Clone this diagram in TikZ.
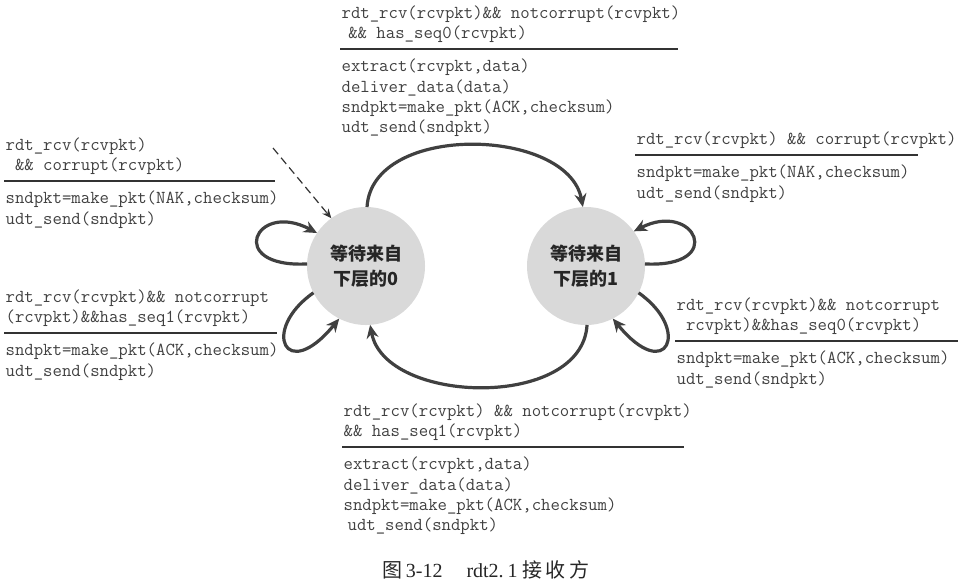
\documentclass[tikz,border=0pt]{standalone}
\usepackage{fontspec}
\setmainfont{Liberation Serif}
\newfontfamily\cjk{Noto Sans CJK SC}
\usetikzlibrary{arrows.meta}
\tikzset{
  state/.style={circle,fill=gray!30,minimum size=88.5pt,inner sep=0pt,outer sep=0pt,align=center,
    font=\cjk\bfseries\fontsize{13.5}{18.75}\selectfont,text=black!85},
  guard/.style={anchor=south west,align=left,inner xsep=1pt,inner ysep=4.5pt,
    font=\ttfamily\fontsize{13.7}{15.5}\selectfont,text=black!75},
  action/.style={anchor=north west,align=left,inner xsep=1pt,inner ysep=7.5pt,
    font=\ttfamily\fontsize{13.7}{15.2}\selectfont,text=black!75},
  trans/.style={->,line width=2.4pt,draw=black!75},
  rulel/.style={line width=0.8pt,draw=black!80}
}
\begin{document}
\begin{tikzpicture}[x=0.75pt,y=-0.75pt,>={Stealth[length=10pt,width=9pt]}]
  \useasboundingbox (0,0) rectangle (969,587);
  \node[state] (s0) at (366,266) {等待来自\\下层的0};
  \node[state] (s1) at (586,266) {等待来自\\下层的1};
  \coordinate (init) at (273,148);

  \node[guard] (gT) at (340,49) {rdt\_rcv(rcvpkt)\&\& notcorrupt(rcvpkt)\\\hspace{5pt}\&\& has\_seq0(rcvpkt)};
  \node[action] (aT) at (340,49) {extract(rcvpkt,data)\\deliver\_data(data)\\sndpkt=make\_pkt(ACK,checksum)\\udt\_send(sndpkt)};
  \draw[rulel] (gT.south west) -- ++(338,0);

  \node[guard] (gL0) at (4,181) {rdt\_rcv(rcvpkt)\\\ \&\& corrupt(rcvpkt)};
  \node[action] (aL0) at (4,181) {sndpkt=make\_pkt(NAK,checksum)\\udt\_send(sndpkt)};
  \draw[rulel] (gL0.south west) -- ++(271,0);

  \node[guard] (gL1) at (4,333) {rdt\_rcv(rcvpkt)\&\& notcorrupt\\(rcvpkt)\&\&has\_seq1(rcvpkt)};
  \node[action] (aL1) at (4,333) {sndpkt=make\_pkt(ACK,checksum)\\udt\_send(sndpkt)};
  \draw[rulel] (gL1.south west) -- ++(273,0);

  \node[guard] (gR0) at (635,155) {rdt\_rcv(rcvpkt) \&\& corrupt(rcvpkt)};
  \node[action] (aR0) at (635,155) {sndpkt=make\_pkt(NAK,checksum)\\udt\_send(sndpkt)};
  \draw[rulel] (gR0.south west) -- ++(283,0);

  \node[guard] (gR1) at (675,341) {rdt\_rcv(rcvpkt)\&\& notcorrupt\\\ rcvpkt)\&\&has\_seq0(rcvpkt)};
  \node[action] (aR1) at (675,341) {sndpkt=make\_pkt(ACK,checksum)\\udt\_send(sndpkt)};
  \draw[rulel] (gR1.south west) -- ++(283,0);

  \node[guard] (gB) at (342,447) {rdt\_rcv(rcvpkt) \&\& notcorrupt(rcvpkt)\\\&\& has\_seq1(rcvpkt)};
  \node[action] (aB) at (342,447) {extract(rcvpkt,data)\\deliver\_data(data)\\sndpkt=make\_pkt(ACK,checksum)\\\hspace{3pt}udt\_send(sndpkt)};
  \draw[rulel] (gB.south west) -- ++(342,0);

  \draw[trans] (s0.89) .. controls +(5,-85) and +(-15,-80) .. (s1.93);
  \draw[trans] (s1.-89) .. controls +(-5,85) and +(15,80) .. (s0.-86);
  \draw[trans] (s0.178) .. controls +(-82,4) and +(-62,-33) .. (s0.146);
  \draw[trans] (s0.207) .. controls +(-53,37) and +(-54,66) .. (s0.-117);
  \draw[trans] (s1.2) .. controls +(82,4) and +(61,-31) .. (s1.36);
  \draw[trans] (s1.-27) .. controls +(53,37) and +(54,66) .. (s1.-63);
  \draw[->,dash pattern=on 6pt off 3.5pt,line width=0.9pt,draw=black!80,>={Stealth[length=7pt,width=6pt]}] (init) -- (s0.126);

  \node[font=\fontsize{15}{18}\selectfont,text=black!85] (cap) at (486,570)
    {{\cjk 图}\hspace{2.2pt}3-12\hspace{18pt}rdt2.\hspace{3pt}1\hspace{3.5pt}{\cjk 接\hspace{2.5pt}收\hspace{2.5pt}方}};
\end{tikzpicture}
\end{document}
